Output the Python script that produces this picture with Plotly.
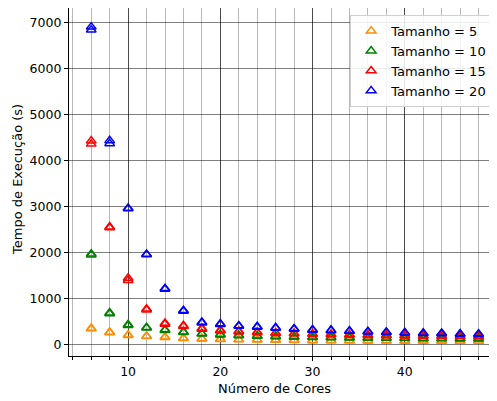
import plotly.graph_objects as go

cores = [6, 8, 10, 12, 14, 16, 18, 20, 22, 24, 26, 28, 30, 32, 34, 36, 38, 40, 42, 44, 46, 48]

# two runs per problem size (execution time in seconds)
t5_a = [350, 265, 205, 180, 160, 135, 125, 115, 105, 100, 95, 90, 88, 85, 83, 80, 78, 76, 75, 73, 72, 70]
t5_b = [340, 255, 195, 172, 150, 128, 118, 108, 100, 94, 90, 86, 83, 80, 78, 76, 74, 72, 71, 70, 68, 67]
t10_a = [1965, 685, 430, 368, 318, 272, 236, 215, 200, 185, 175, 165, 158, 152, 147, 142, 137, 133, 130, 127, 124, 122]
t10_b = [1945, 665, 410, 355, 305, 260, 225, 205, 190, 176, 166, 157, 151, 146, 141, 136, 132, 128, 125, 122, 119, 117]
t15_a = [4425, 2555, 1440, 770, 460, 410, 350, 310, 288, 268, 252, 240, 230, 220, 210, 205, 200, 195, 190, 185, 180, 175]
t15_b = [4355, 2535, 1390, 750, 440, 392, 332, 292, 272, 254, 240, 230, 220, 210, 202, 196, 190, 185, 180, 176, 171, 167]
t20_a = [6900, 4430, 2960, 1960, 1215, 738, 482, 448, 405, 388, 365, 340, 318, 310, 295, 280, 266, 256, 245, 242, 230, 226]
t20_b = [6835, 4365, 2950, 1950, 1200, 722, 468, 434, 395, 376, 352, 330, 310, 300, 285, 270, 258, 248, 236, 234, 220, 218]

labels = ["Tamanho = 5", "Tamanho = 10", "Tamanho = 15", "Tamanho = 20"]
colors = ["#ff8c00", "#008000", "#ff0000", "#0000ff"]
runs = [(t5_a, t5_b), (t10_a, t10_b), (t15_a, t15_b), (t20_a, t20_b)]

FONT = "DejaVu Sans"
fig = go.Figure()
for lab, col, (ra, rb) in zip(labels, colors, runs):
    for k, r in enumerate((ra, rb)):
        fig.add_trace(go.Scatter(
            x=cores, y=r, mode="markers", name=lab, legendgroup=lab,
            showlegend=(k == 0),
            marker=dict(symbol="triangle-up-open", size=8.5, color=col,
                        line=dict(width=1.5, color=col)),
        ))

# the page body adds an 8px offset at top/left, so the figure is 8px smaller
fig.update_layout(
    width=489, height=393,
    margin=dict(l=61, r=0, t=0, b=45),
    paper_bgcolor="white", plot_bgcolor="white",
    font=dict(family=FONT, size=13, color="black"),
    showlegend=True,
    legend=dict(x=0.991, y=0.98, xanchor="right", yanchor="top",
                bgcolor="rgba(255,255,255,0.85)", bordercolor="#d0d0d0",
                borderwidth=1, font=dict(family=FONT, size=13),
                itemwidth=30, tracegroupgap=0),
    xaxis=dict(range=[3.59, 50.0], tickvals=[10, 20, 30, 40],
               ticks="outside", ticklen=4, tickcolor="black",
               tickfont=dict(size=12.5), automargin=False,
               showline=True, linecolor="black", linewidth=1.2, mirror=True,
               showgrid=True, gridcolor="rgba(0,0,0,0.6)", gridwidth=1,
               zeroline=False,
               minor=dict(dtick=2, tick0=0, showgrid=True,
                          gridcolor="rgba(0,0,0,0.28)", gridwidth=1.3,
                          ticks="outside", ticklen=3, tickcolor="black")),
    yaxis=dict(range=[-254, 7311], tickvals=[0, 1000, 2000, 3000, 4000, 5000, 6000, 7000],
               ticks="outside", ticklen=4, tickcolor="black",
               tickfont=dict(size=12.5), automargin=False,
               showline=True, linecolor="black", linewidth=1.2,
               showgrid=True, gridcolor="rgba(0,0,0,0.5)", gridwidth=1,
               zeroline=False),
    annotations=[
        dict(text="Número de Cores", xref="paper", yref="paper",
             x=0.479, y=-0.092, xanchor="center", yanchor="middle",
             showarrow=False, font=dict(family=FONT, size=13)),
        dict(text="Tempo de Execução (s)", xref="paper", yref="paper",
             x=-0.119, y=0.506, xanchor="center", yanchor="middle",
             textangle=-90, showarrow=False, font=dict(family=FONT, size=13)),
    ],
)

fig.write_html("out.html")
